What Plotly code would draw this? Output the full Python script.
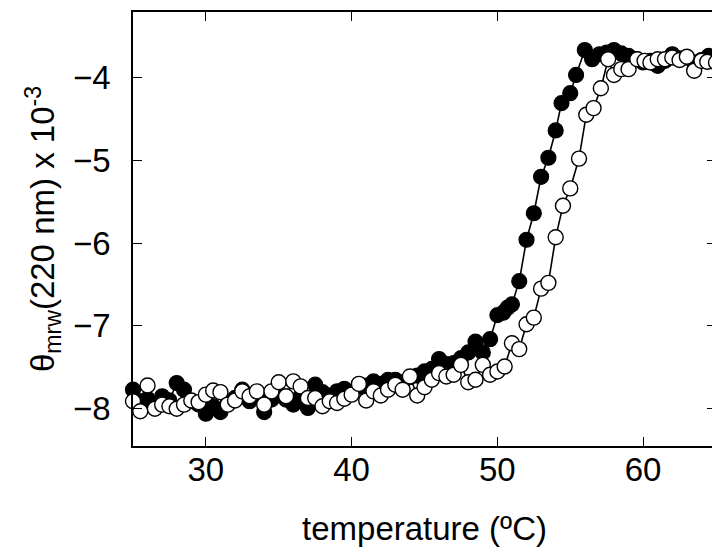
import plotly.graph_objects as go

# filled circles (black)
temp_filled = [25.0, 25.5, 26.0, 26.5, 27.0, 27.5, 28.0, 28.5, 29.0, 29.5,
               30.0, 30.5, 31.0, 31.5, 32.0, 32.5, 33.0, 33.5, 34.0, 34.5,
               35.0, 35.5, 36.0, 36.5, 37.0, 37.5, 38.0, 38.5, 39.0, 39.5,
               40.0, 40.5, 41.0, 41.5, 42.0, 42.5, 43.0, 43.5, 44.0, 44.5,
               45.0, 45.5, 46.0, 46.5, 47.0, 47.5, 48.0, 48.5, 49.0, 49.5,
               50.0, 50.4, 50.7, 51.0, 51.5, 52.0, 52.5, 53.0, 53.5, 54.0,
               54.4, 55.0, 55.4, 56.0, 56.5, 57.0, 57.5, 58.0, 58.5, 59.0,
               59.5, 60.0, 60.5, 61.0, 61.5, 62.0, 62.5, 63.0, 63.5, 64.0,
               64.5, 65.0]
theta_filled = [-7.77, -7.91, -7.88, -7.95, -7.85, -7.90, -7.69, -7.77, -7.91, -7.95,
                -8.06, -7.97, -8.04, -7.92, -7.87, -7.77, -7.91, -7.85, -8.04, -7.89,
                -7.83, -7.89, -7.95, -7.85, -7.99, -7.71, -7.80, -7.84, -7.79, -7.76,
                -7.80, -7.74, -7.72, -7.67, -7.70, -7.65, -7.65, -7.68, -7.62, -7.60,
                -7.55, -7.52, -7.40, -7.46, -7.45, -7.39, -7.32, -7.19, -7.32, -7.16,
                -6.87, -6.84, -6.78, -6.74, -6.46, -5.96, -5.64, -5.20, -4.97, -4.64,
                -4.31, -4.19, -3.97, -3.67, -3.78, -3.72, -3.70, -3.67, -3.71, -3.74,
                -3.78, -3.82, -3.80, -3.86, -3.80, -3.72, -3.77, -3.76, -3.82, -3.79,
                -3.74, -3.78]

# open circles (white)
temp_open = [25.0, 25.5, 26.0, 26.5, 27.0, 27.5, 28.0, 28.5, 29.0, 29.5,
             30.0, 30.5, 31.0, 31.5, 32.0, 32.5, 33.0, 33.5, 34.0, 34.5,
             35.0, 35.5, 36.0, 36.5, 37.0, 37.5, 38.0, 38.5, 39.0, 39.5,
             40.0, 40.5, 41.0, 41.5, 42.0, 42.5, 43.0, 43.5, 44.0, 44.5,
             45.0, 45.5, 46.0, 46.5, 47.0, 47.5, 48.0, 48.5, 49.0, 49.5,
             50.0, 50.5, 51.0, 51.5, 52.0, 52.5, 53.0, 53.5, 54.0, 54.5,
             55.0, 55.6, 56.1, 56.6, 57.1, 57.6, 58.0, 58.5, 59.0, 59.6,
             60.1, 60.5, 61.0, 61.5, 62.0, 62.5, 63.0, 63.5, 64.0, 64.4,
             65.0]
theta_open = [-7.91, -8.03, -7.72, -8.00, -7.95, -7.97, -8.00, -7.95, -7.90, -7.92,
              -7.83, -7.78, -7.80, -7.95, -7.90, -7.79, -7.85, -7.79, -7.95, -7.79,
              -7.68, -7.85, -7.67, -7.73, -7.87, -7.87, -7.97, -7.91, -7.93, -7.88,
              -7.83, -7.70, -7.90, -7.79, -7.84, -7.77, -7.71, -7.77, -7.61, -7.84,
              -7.74, -7.65, -7.57, -7.61, -7.59, -7.47, -7.68, -7.65, -7.47, -7.59,
              -7.55, -7.49, -7.21, -7.28, -6.98, -6.90, -6.55, -6.48, -5.93, -5.55,
              -5.34, -4.98, -4.45, -4.37, -4.13, -3.78, -3.97, -3.90, -3.90, -3.78,
              -3.80, -3.82, -3.78, -3.78, -3.76, -3.79, -3.75, -3.92, -3.80, -3.81,
              -3.82]

font = 'Liberation Sans, Arial, sans-serif'

fig = go.Figure()
fig.add_trace(go.Scatter(
    x=temp_filled, y=theta_filled, mode='lines+markers',
    line=dict(color='black', width=1.6),
    marker=dict(size=15, color='black', line=dict(color='black', width=1.2)),
    cliponaxis=False, showlegend=False
))
fig.add_trace(go.Scatter(
    x=temp_open, y=theta_open, mode='lines+markers',
    line=dict(color='black', width=1.6),
    marker=dict(size=15, color='white', line=dict(color='black', width=1.4)),
    cliponaxis=False, showlegend=False
))

axis_common = dict(
    showgrid=False, zeroline=False, showline=True, linecolor='black',
    linewidth=1.5, mirror='ticks', ticks='inside', ticklen=9,
    tickwidth=1.3, tickcolor='black', automargin=False,
    tickfont=dict(family=font, size=33, color='black'),
)

fig.update_layout(
    width=720, height=551,
    margin=dict(l=125, r=12, t=4, b=113),
    paper_bgcolor='white', plot_bgcolor='white',
    xaxis=dict(range=[25, 65], tickvals=[30, 40, 50, 60], ticklabelstandoff=-6,
               title=dict(text='temperature (ºC)', standoff=30,
                          font=dict(family=font, size=33, color='black')),
               **axis_common),
    yaxis=dict(range=[-8.45, -3.21], tickvals=[-8, -7, -6, -5, -4], ticklabelstandoff=14,
               title=dict(text='θ<sub>mrw</sub>(220 nm) x 10<sup>-3</sup>', standoff=8,
                          font=dict(family=font, size=33, color='black')),
               **axis_common),
)

fig.write_html("out.html")
